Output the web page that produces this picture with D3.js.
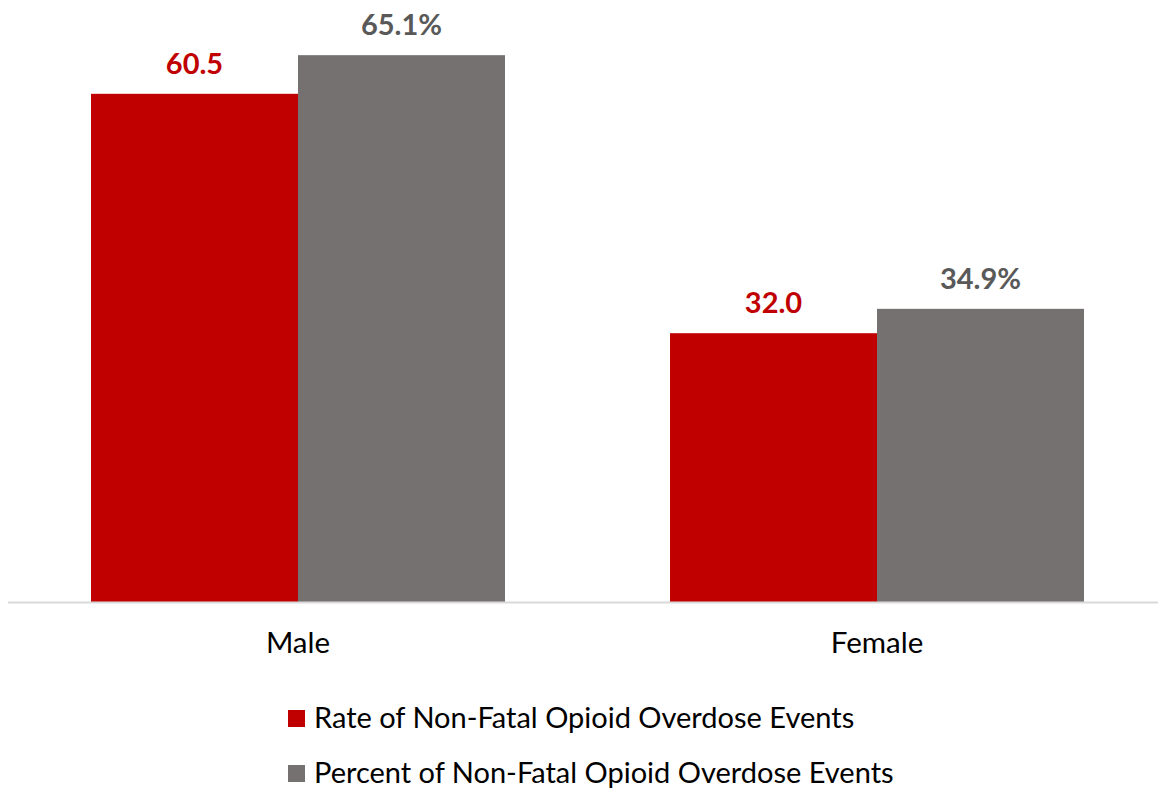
<!DOCTYPE html>
<html>
<head>
<meta charset="utf-8">
<script src="https://cdn.jsdelivr.net/npm/d3@7"></script>
<style>
  body { margin: 0; background: #fff; }
  svg text { font-family: Lato, "Open Sans", sans-serif; }
</style>
</head>
<body>
<div id="chart"></div>
<script>
/* data */
var categories = ["Male", "Female"];
var seriesNames = ["Rate of Non-Fatal Opioid Overdose Events", "Percent of Non-Fatal Opioid Overdose Events"];
var rateValues = [60.5, 32.0];
var percentValues = [65.1, 34.9];
var seriesColors = ["#C00000", "#767171"];
var labelColors = ["#C00000", "#595959"];

var width = 1158, height = 792;
var baseY = 602, topY = 14;

var svg = d3.select("#chart")
            .append("svg")
            .attr("width", width)
            .attr("height", height);

var rows = categories.map(function (c, i) {
  return { cat: c, vals: [rateValues[i], percentValues[i]] };
});

/* scales */
var x0 = d3.scaleBand()
           .domain(categories)
           .range([8.5, 1166.5])
           .paddingInner(0.285)
           .paddingOuter(0.1425);

var x1 = d3.scaleBand()
           .domain([0, 1])
           .range([0, x0.bandwidth()]);

var y = d3.scaleLinear()
          .domain([0, 70])
          .range([baseY, topY]);

/* bars */
var groups = svg.selectAll("g.grp")
   .data(rows)
   .enter()
   .append("g")
   .attr("class", "grp")
   .attr("transform", function (d) { return "translate(" + x0(d.cat) + ",0)"; });

groups.selectAll("rect")
   .data(function (d) { return d.vals; })
   .enter()
   .append("rect")
   .attr("x", function (d, i) { return x1(i); })
   .attr("y", function (d) { return y(d); })
   .attr("width", x1.bandwidth())
   .attr("height", function (d) { return baseY - y(d); })
   .style("fill", function (d, i) { return seriesColors[i]; });

/* value labels */
groups.selectAll("text.val")
   .data(function (d) { return d.vals; })
   .enter()
   .append("text")
   .attr("class", "val")
   .attr("x", function (d, i) { return x1(i) + x1.bandwidth() / 2; })
   .attr("y", function (d) { return y(d) - 20; })
   .attr("text-anchor", "middle")
   .style("font-size", "29px")
   .style("font-weight", "bold")
   .style("fill", function (d, i) { return labelColors[i]; })
   .text(function (d, i) { return i === 0 ? d.toFixed(1) : d.toFixed(1) + "%"; });

/* baseline axis */
svg.append("line")
   .attr("x1", 8)
   .attr("x2", width)
   .attr("y1", baseY + 0.5)
   .attr("y2", baseY + 0.5)
   .style("stroke", "#D9D9D9")
   .style("stroke-width", 2);

/* category labels */
svg.selectAll("text.cat")
   .data(categories)
   .enter()
   .append("text")
   .attr("class", "cat")
   .attr("x", function (d) { return x0(d) + x0.bandwidth() / 2; })
   .attr("y", 653)
   .attr("text-anchor", "middle")
   .style("font-size", "29.5px")
   .style("fill", "#000")
   .text(function (d) { return d; });

/* legend */
var legend = svg.selectAll("g.leg")
   .data(seriesNames)
   .enter()
   .append("g")
   .attr("class", "leg")
   .attr("transform", function (d, i) { return "translate(288," + (710 + i * 55) + ")"; });

legend.append("rect")
   .attr("width", 17)
   .attr("height", 17)
   .style("fill", function (d, i) { return seriesColors[i]; });

legend.append("text")
   .attr("x", 26)
   .attr("y", 18)
   .style("font-size", "29px")
   .style("fill", "#000")
   .text(function (d) { return d; });
</script>
</body>
</html>
